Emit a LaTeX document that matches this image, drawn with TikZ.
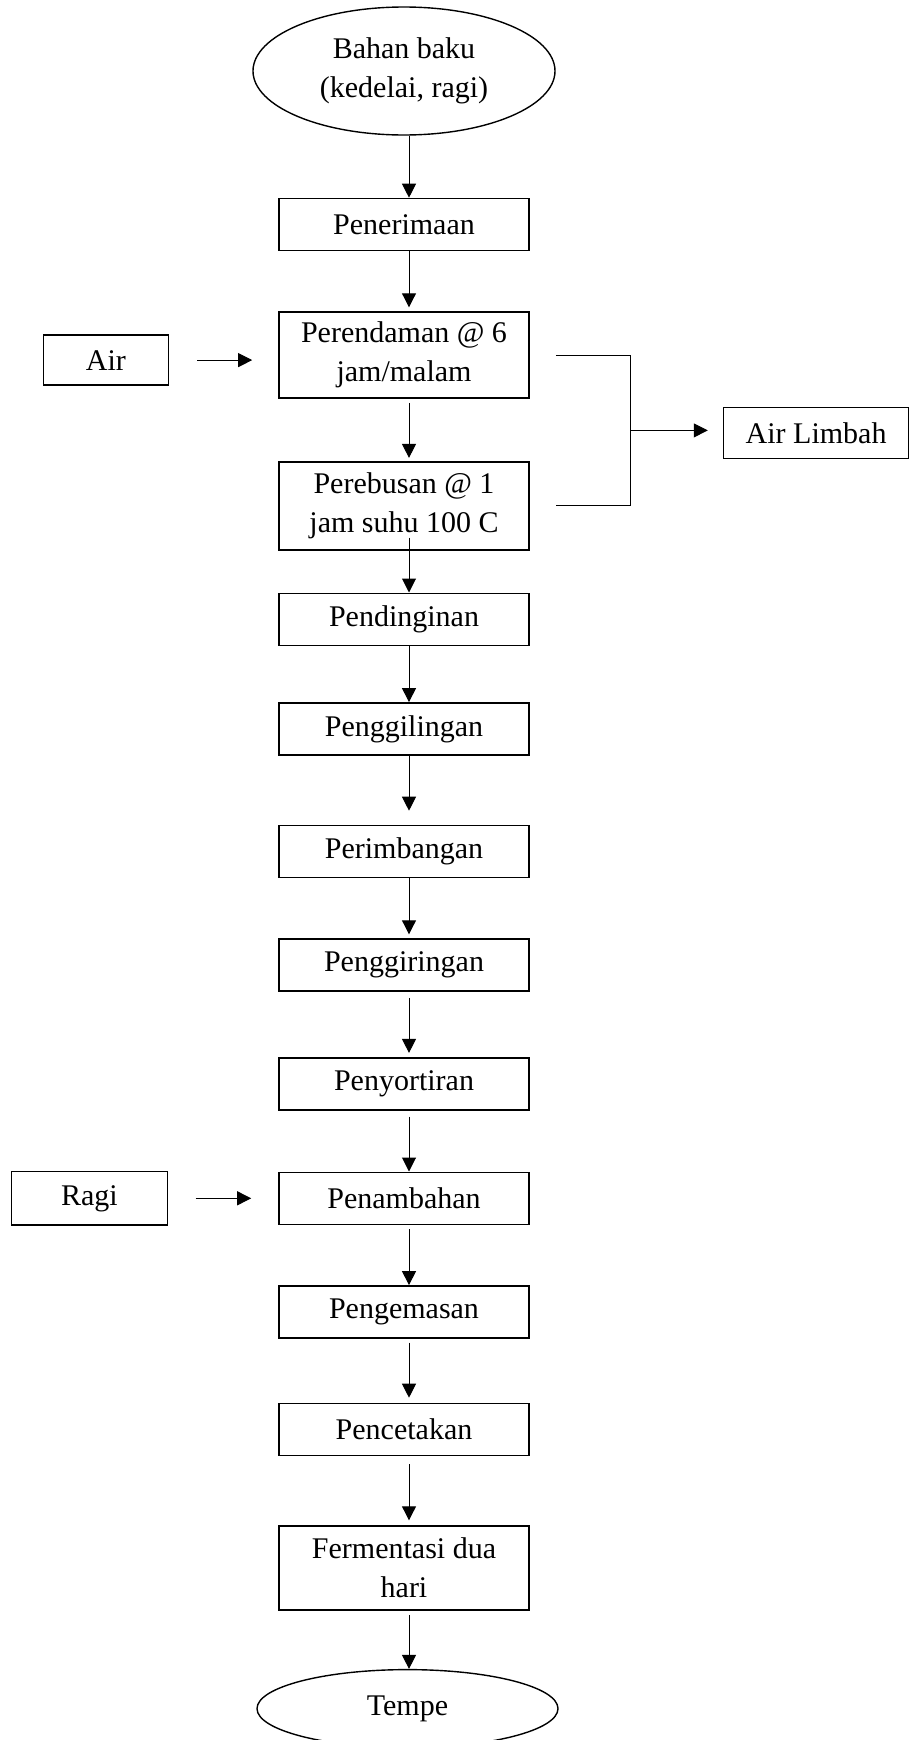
\documentclass[tikz,border=0pt]{standalone}
\usepackage{fontspec}
\setmainfont{Liberation Serif}
\usetikzlibrary{positioning,shapes.geometric,arrows.meta,calc}

\begin{document}
\begin{tikzpicture}[x=0.5pt, y=-0.5pt, line width=0.5pt,
    proses/.style={rectangle, draw, line width=0.8pt, minimum width=125pt,
        minimum height=26pt, inner sep=4pt, align=center},
    awal/.style={ellipse, draw, line width=0.7pt, inner sep=0pt, align=center},
    >={Triangle[length=7pt,width=7pt]}, font=\fontsize{15}{19.5}\selectfont]

    \useasboundingbox (0,0) rectangle (909,1740);

    % alur utama
    \node[awal, minimum width=151pt, minimum height=64pt] (bahan) at (404,71) {Bahan baku\\(kedelai, ragi)};
    \node[proses] (terima) [below=31pt of bahan] {Penerimaan};
    \node[proses, minimum height=43pt] (rendam) [below=30pt of terima] {Perendaman @ 6\\jam/malam};
    \node[proses, minimum height=44pt] (rebus) [below=31pt of rendam] {Perebusan @ 1\\jam suhu 100 C};
    \node[proses] (dingin) [below=21pt of rebus] {Pendinginan};
    \node[proses] (giling) [below=28pt of dingin] {Penggilingan};
    \node[proses] (timbang) [below=34.5pt of giling] {Perimbangan};
    \node[proses] (giring) [below=30pt of timbang] {Penggiringan};
    \node[proses] (sortir) [below=32.5pt of giring] {Penyortiran};
    \node[proses] (tambah) [below=30.5pt of sortir] {Penambahan};
    \node[proses] (kemas) [below=30pt of tambah] {Pengemasan};
    \node[proses] (cetak) [below=32pt of kemas] {Pencetakan};
    \node[proses, minimum height=42pt] (fermen) [below=34.5pt of cetak] {Fermentasi dua\\hari};
    \node[awal, minimum width=150.5pt, minimum height=39pt] (tempe) [below=29pt of fermen, xshift=1.75pt] {Tempe};

    % masukan dan keluaran samping
    \node[proses, minimum width=62.5pt, minimum height=25pt] (air) [left=54.5pt of rendam, yshift=-2.5pt] {Air};
    \node[proses, minimum width=78pt, minimum height=26.75pt] (ragi) [left=55pt of tambah] {Ragi};
    \coordinate (tengah) at ($(rendam.east)!0.5!(rebus.east)$);
    \coordinate (cabang) at ([xshift=50.5pt]tengah);
    \node[proses, minimum width=92.5pt, minimum height=25.5pt, anchor=west] (limbah) at ([xshift=96.5pt, yshift=-1.25pt]tengah) {Air Limbah};

    \draw[->] ([xshift=2.5pt]bahan.south) -- ([xshift=2.5pt]terima.north);
    \draw[->, shorten >=2pt] ([xshift=2.5pt]terima.south) -- ([xshift=2.5pt]rendam.north);
    \draw[->, shorten <=2pt, shorten >=1.5pt] ([xshift=2.5pt]rendam.south) -- ([xshift=2.5pt]rebus.north);
    \draw[->, shorten <=-6.5pt] ([xshift=2.5pt]rebus.south) -- ([xshift=2.5pt]dingin.north);
    \draw[->] ([xshift=2.5pt]dingin.south) -- ([xshift=2.5pt]giling.north);
    \draw[->, shorten >=7pt] ([xshift=2.5pt]giling.south) -- ([xshift=2.5pt]timbang.north);
    \draw[->, shorten >=2pt] ([xshift=2.5pt]timbang.south) -- ([xshift=2.5pt]giring.north);
    \draw[->, shorten <=3pt, shorten >=2pt] ([xshift=2.5pt]giring.south) -- ([xshift=2.5pt]sortir.north);
    \draw[->, shorten <=3pt] ([xshift=2.5pt]sortir.south) -- ([xshift=2.5pt]tambah.north);
    \draw[->, shorten <=2pt] ([xshift=2.5pt]tambah.south) -- ([xshift=2.5pt]kemas.north);
    \draw[->, shorten <=2pt, shorten >=2.5pt] ([xshift=2.5pt]kemas.south) -- ([xshift=2.5pt]cetak.north);
    \draw[->, shorten <=4pt, shorten >=2.5pt] ([xshift=2.5pt]cetak.south) -- ([xshift=2.5pt]fermen.north);
    \draw[->, shorten <=2pt] ([xshift=2.5pt]fermen.south) -- ([xshift=2.5pt]fermen.south |- tempe.north);

    \draw[->, shorten <=14pt, shorten >=13pt] (air.east) -- (air.east -| rendam.west);
    \draw[->, shorten <=13.75pt, shorten >=13.5pt] (ragi.east) -- (ragi.east -| tambah.west);
    \draw ([xshift=13pt]rendam.east) -| (cabang) |- ([xshift=13pt]rebus.east);
    \draw[->, shorten >=7.5pt] (cabang) -- (cabang -| limbah.west);
\end{tikzpicture}
\end{document}
